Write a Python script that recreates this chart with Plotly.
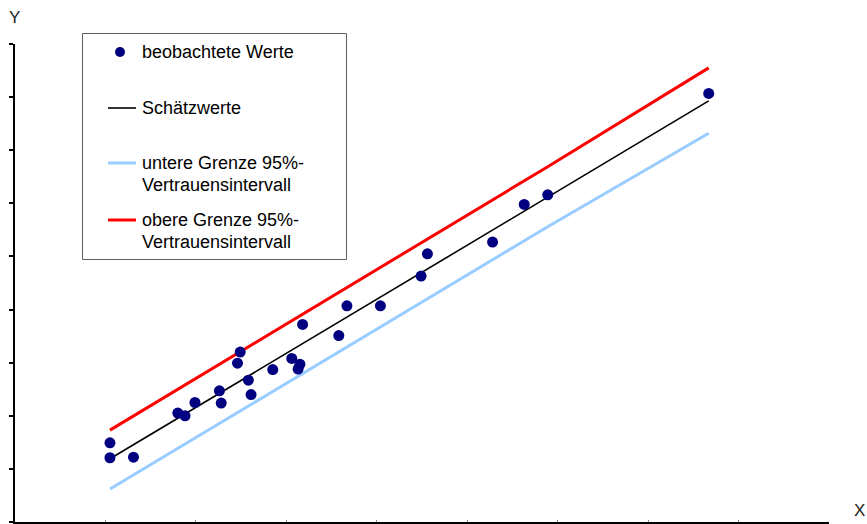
import plotly.graph_objects as go

obs_x = [1.05, 1.05, 1.31, 1.80, 1.88, 1.99, 2.26, 2.28, 2.46, 2.49, 2.58, 2.61, 2.85,
         3.06, 3.13, 3.15, 3.18, 3.58, 3.67, 4.04, 4.49, 4.56, 5.28, 5.63, 5.89, 7.67]
obs_y = [1.49, 1.21, 1.22, 2.05, 2.00, 2.25, 2.47, 2.24, 2.99, 3.20, 2.67, 2.40, 2.87,
         3.08, 2.88, 2.97, 3.72, 3.51, 4.07, 4.07, 4.63, 5.05, 5.27, 5.98, 6.16, 8.07]

# Fitted line and confidence bounds
fit_x = [1.05, 5.89, 7.67]
fit_y = [1.19, 6.11, 7.93]
lower_y = [0.62, 5.56, 7.32]
upper_y = [1.73, 6.69, 8.55]

names = ["beobachtete Werte", "Schätzwerte",
         "untere Grenze 95%-<br>Vertrauensintervall",
         "obere Grenze 95%-<br>Vertrauensintervall"]

COL_OBS, COL_FIT, COL_LOW, COL_UP = "#000080", "black", "#99CCFF", "#FF0000"

FONT = "Liberation Sans, Arial, sans-serif"
W, H = 867, 524
ML, MR, MT, MB = 15, 38, 44, 2
PW, PH = W - ML - MR, H - MT - MB


def px_x(p):
    return (p - ML) / PW


def px_y(p):
    return (H - MB - p) / PH


fig = go.Figure()
fig.add_trace(go.Scatter(x=fit_x, y=fit_y, mode="lines", name=names[1],
                         line=dict(color=COL_FIT, width=1.6)))
fig.add_trace(go.Scatter(x=fit_x, y=lower_y, mode="lines", name=names[2],
                         line=dict(color=COL_LOW, width=3)))
fig.add_trace(go.Scatter(x=fit_x, y=upper_y, mode="lines", name=names[3],
                         line=dict(color=COL_UP, width=3)))
fig.add_trace(go.Scatter(x=obs_x, y=obs_y, mode="markers", name=names[0],
                         marker=dict(color=COL_OBS, size=11, line=dict(width=0))))

# ---- hand-drawn legend box (positions in page pixels) ----
shapes = [dict(type="rect", xref="paper", yref="paper",
               x0=px_x(82.5), x1=px_x(346.5), y0=px_y(259.5), y1=px_y(33.5),
               line=dict(color="#606060", width=1), fillcolor="white", layer="below")]
annotations = []
rows = [  # (name index, symbol y, style)
    (0, 52, "marker", COL_OBS, 0),
    (1, 108, "line", COL_FIT, 1.6),
    (2, 163, "line", COL_LOW, 3),
    (3, 220, "line", COL_UP, 3),
]
for idx, ypix, kind, col, lw in rows:
    if kind == "marker":
        shapes.append(dict(type="circle", xref="paper", yref="paper",
                           x0=px_x(115), x1=px_x(125), y0=px_y(57), y1=px_y(47),
                           fillcolor=col, line=dict(width=0)))
    else:
        shapes.append(dict(type="line", xref="paper", yref="paper",
                           x0=px_x(108), x1=px_x(136), y0=px_y(ypix), y1=px_y(ypix),
                           line=dict(color=col, width=lw)))
    for k, txt in enumerate(names[idx].split("<br>")):
        annotations.append(dict(text=txt, x=px_x(140), y=px_y(ypix + 22 * k),
                                xref="paper", yref="paper", showarrow=False,
                                xanchor="left", yanchor="middle",
                                font=dict(family=FONT, size=18, color="black")))

annotations += [
    dict(text="Y", x=px_x(14), y=px_y(18), xref="paper", yref="paper",
         showarrow=False, xanchor="center", yanchor="middle",
         font=dict(family=FONT, size=17, color="#222222")),
    dict(text="X", x=px_x(859), y=px_y(510), xref="paper", yref="paper",
         showarrow=False, xanchor="center", yanchor="middle",
         font=dict(family=FONT, size=17, color="#222222")),
]

fig.update_layout(
    width=W, height=H,
    margin=dict(l=ML, r=MR, t=MT, b=MB),
    paper_bgcolor="white", plot_bgcolor="white",
    font=dict(family=FONT, size=17, color="black"),
    showlegend=False,
    xaxis=dict(range=[0, 9], dtick=1, tick0=0, showgrid=False, zeroline=False,
               showline=True, linecolor="black", linewidth=2,
               ticks="inside", ticklen=2, tickcolor="#888888", tickwidth=1,
               showticklabels=False),
    yaxis=dict(range=[0, 9], dtick=1, tick0=0, showgrid=False, zeroline=False,
               showline=True, linecolor="black", linewidth=2,
               ticks="outside", ticklen=4, tickcolor="black", tickwidth=2,
               showticklabels=False),
    shapes=shapes,
    annotations=annotations,
)

fig.write_html("out.html", config={"displayModeBar": False},
               post_script="document.body.style.margin='0';")
